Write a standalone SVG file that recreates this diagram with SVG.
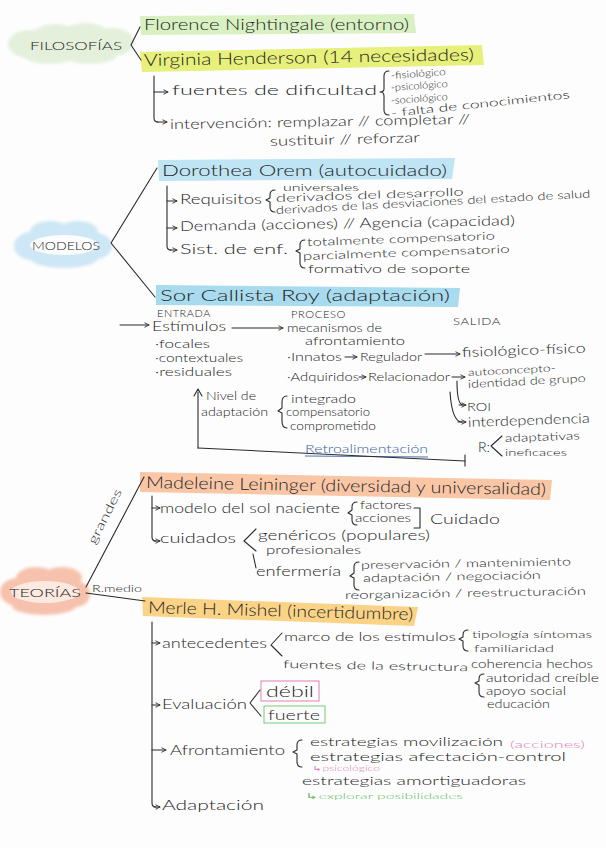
<svg xmlns="http://www.w3.org/2000/svg" width="606" height="848" viewBox="0 0 606 848">
<defs>
<style>
text{font-family:Lato,"Liberation Sans","DejaVu Sans",sans-serif;font-weight:300;fill:#262626}
.h{font-size:16.5px}
.m{font-size:13.5px}
.s{font-size:11px}
.xs{font-size:9px}
.cap{font-size:10px;letter-spacing:0.5px}
.ln{fill:none;stroke:#2b2b2b;stroke-width:1.1;stroke-linecap:round;stroke-linejoin:round}
.ar{fill:none;stroke:#2b2b2b;stroke-width:1;stroke-linecap:round;marker-end:url(#ah)}
</style>
<marker id="ah" viewBox="0 0 8 8" refX="7" refY="4" markerWidth="6" markerHeight="6" orient="auto" markerUnits="userSpaceOnUse">
<path d="M1,1 L7,4 L1,7" fill="none" stroke="#2b2b2b" stroke-width="1.2"/>
</marker>
<filter id="soft" x="-20%" y="-30%" width="140%" height="160%"><feGaussianBlur stdDeviation="1.6"/></filter>
</defs>
<rect width="606" height="848" fill="#fdfdfd"/>

<!-- FILOSOFÍAS -->
<g id="filosofias">
<g fill="#e4f0dc" filter="url(#soft)">
<ellipse cx="30" cy="44" rx="22" ry="14"/><ellipse cx="55" cy="36" rx="22" ry="12"/><ellipse cx="85" cy="35" rx="24" ry="12"/><ellipse cx="112" cy="42" rx="22" ry="14"/><ellipse cx="90" cy="54" rx="28" ry="10"/><ellipse cx="50" cy="54" rx="28" ry="10"/><ellipse cx="70" cy="45" rx="50" ry="14"/>
</g>
<text class="s" x="30" y="50" textLength="92" lengthAdjust="spacingAndGlyphs" style="font-size:12px">FILOSOFÍAS</text>
</g>

<g id="nightingale">
<path d="M140,16 L414,14 L416,33 L141,35 Z" fill="#d8f0c2"/>
<text class="h" x="144" y="30" textLength="265" lengthAdjust="spacingAndGlyphs">Florence Nightingale (entorno)</text>
</g>
<g id="henderson">
<path d="M140,52 L482,45 L484,65 L142,72 Z" fill="#e6f07a"/>
<text class="h" x="144" y="66" textLength="330" lengthAdjust="spacingAndGlyphs" transform="rotate(-1 144 66)">Virginia Henderson (14 necesidades)</text>
<text class="m" x="172" y="95" textLength="205" lengthAdjust="spacingAndGlyphs">fuentes de dificultad</text>
<text class="xs" x="391" y="79" textLength="55" lengthAdjust="spacingAndGlyphs" transform="rotate(-4 391 79)" style="font-size:10px">-fisiológico</text>
<text class="xs" x="391" y="91" textLength="57" lengthAdjust="spacingAndGlyphs" transform="rotate(-4 391 91)" style="font-size:10px">-psicológico</text>
<text class="xs" x="391" y="104" textLength="57" lengthAdjust="spacingAndGlyphs" transform="rotate(-4 391 104)" style="font-size:10px">-sociológico</text>
<text class="s" x="391" y="117" textLength="180" lengthAdjust="spacingAndGlyphs" transform="rotate(-6 391 117)">- falta de conocimientos</text>
<text class="m" x="170" y="129" textLength="300" lengthAdjust="spacingAndGlyphs" transform="rotate(-1 170 129)">intervención: remplazar // completar //</text>
<text class="m" x="270" y="146" textLength="150" lengthAdjust="spacingAndGlyphs" transform="rotate(-1.5 270 146)">sustituir // reforzar</text>
</g>

<!-- MODELOS -->
<g id="modelos">
<g fill="#cde7f6" filter="url(#soft)">
<ellipse cx="32" cy="246" rx="18" ry="14"/><ellipse cx="50" cy="232" rx="20" ry="11"/><ellipse cx="78" cy="232" rx="20" ry="11"/><ellipse cx="96" cy="246" rx="16" ry="13"/><ellipse cx="64" cy="258" rx="34" ry="10"/><ellipse cx="64" cy="245" rx="40" ry="14"/>
</g>
<g fill="#fdfdfd">
<ellipse cx="64" cy="245" rx="34" ry="10"/>
</g>
<text class="s" x="32" y="250" textLength="68" lengthAdjust="spacingAndGlyphs" style="font-size:12px">MODELOS</text>
</g>

<g id="orem">
<path d="M158,160 L455,158 L452,179 L159,181 Z" fill="#bfe4f4"/>
<text class="h" x="162" y="176" textLength="285" lengthAdjust="spacingAndGlyphs">Dorothea Orem (autocuidado)</text>
<text class="m" x="180" y="204" textLength="82" lengthAdjust="spacingAndGlyphs">Requisitos</text>
<text class="xs" x="283" y="191" textLength="76" lengthAdjust="spacingAndGlyphs" style="font-size:10px">universales</text>
<text class="s" x="276" y="202" textLength="188" lengthAdjust="spacingAndGlyphs" transform="rotate(-2 276 202)">derivados del desarrollo</text>
<text class="s" x="276" y="214" textLength="315" lengthAdjust="spacingAndGlyphs" transform="rotate(-3 276 214)">derivados de las desviaciones del estado de salud</text>
<text class="m" x="180" y="231" textLength="335" lengthAdjust="spacingAndGlyphs" transform="rotate(-1 180 231)">Demanda (acciones) // Agencia (capacidad)</text>
<text class="m" x="180" y="254" textLength="108" lengthAdjust="spacingAndGlyphs">Sist. de enf.</text>
<text class="s" x="307" y="246" textLength="188" lengthAdjust="spacingAndGlyphs" transform="rotate(-2 307 246)">totalmente compensatorio</text>
<text class="s" x="303" y="260" textLength="207" lengthAdjust="spacingAndGlyphs" transform="rotate(-2 303 260)">parcialmente compensatorio</text>
<text class="s" x="308" y="273" textLength="162" lengthAdjust="spacingAndGlyphs">formativo de soporte</text>
</g>

<g id="roy">
<path d="M156,285 L460,288 L458,307 L156,305 Z" fill="#a8dbee"/>
<text class="h" x="160" y="301" textLength="290" lengthAdjust="spacingAndGlyphs">Sor Callista Roy (adaptación)</text>
<text class="cap" x="157" y="317" textLength="54" lengthAdjust="spacingAndGlyphs">ENTRADA</text>
<text class="cap" x="291" y="318" textLength="55" lengthAdjust="spacingAndGlyphs">PROCESO</text>
<text class="cap" x="453" y="325" textLength="48" lengthAdjust="spacingAndGlyphs">SALIDA</text>
<text class="m" x="152" y="331" textLength="74" lengthAdjust="spacingAndGlyphs">Estímulos</text>
<text class="s" x="287" y="332" textLength="95" lengthAdjust="spacingAndGlyphs">mecanismos de</text>
<text class="s" x="305" y="345" textLength="100" lengthAdjust="spacingAndGlyphs">afrontamiento</text>
<text class="s" x="155" y="348" textLength="55" lengthAdjust="spacingAndGlyphs">·focales</text>
<text class="s" x="155" y="362" textLength="88" lengthAdjust="spacingAndGlyphs">·contextuales</text>
<text class="s" x="155" y="376" textLength="77" lengthAdjust="spacingAndGlyphs">·residuales</text>
<text class="s" x="287" y="361" textLength="55" lengthAdjust="spacingAndGlyphs">·Innatos</text>
<text class="s" x="360" y="361" textLength="62" lengthAdjust="spacingAndGlyphs">Regulador</text>
<text class="m" x="462" y="357" textLength="124" lengthAdjust="spacingAndGlyphs" transform="rotate(-2 462 357)">fisiológico-físico</text>
<text class="s" x="287" y="381" textLength="72" lengthAdjust="spacingAndGlyphs">·Adquiridos</text>
<text class="s" x="368" y="381" textLength="82" lengthAdjust="spacingAndGlyphs">Relacionador</text>
<text class="xs" x="468" y="376" textLength="88" lengthAdjust="spacingAndGlyphs" transform="rotate(-3 468 376)" style="font-size:10px">autoconcepto-</text>
<text class="s" x="468" y="388" textLength="118" lengthAdjust="spacingAndGlyphs" transform="rotate(-3 468 388)">identidad de grupo</text>
<text class="s" x="467" y="411" textLength="24" lengthAdjust="spacingAndGlyphs">ROI</text>
<text class="m" x="468" y="427" textLength="122" lengthAdjust="spacingAndGlyphs" transform="rotate(-2 468 427)">interdependencia</text>
<text class="m" x="478" y="452" textLength="12" lengthAdjust="spacingAndGlyphs">R:</text>
<text class="s" x="505" y="442" textLength="75" lengthAdjust="spacingAndGlyphs" transform="rotate(-2 505 442)">adaptativas</text>
<text class="xs" x="505" y="456" textLength="62" lengthAdjust="spacingAndGlyphs" style="font-size:10px">ineficaces</text>
<text class="s" x="206" y="400" textLength="50" lengthAdjust="spacingAndGlyphs">Nivel de</text>
<text class="s" x="201" y="416" textLength="67" lengthAdjust="spacingAndGlyphs">adaptación</text>
<text class="s" x="291" y="403" textLength="65" lengthAdjust="spacingAndGlyphs">integrado</text>
<text class="s" x="286" y="416" textLength="84" lengthAdjust="spacingAndGlyphs">compensatorio</text>
<text class="s" x="290" y="430" textLength="86" lengthAdjust="spacingAndGlyphs">comprometido</text>
<text class="s" x="305" y="453" textLength="123" lengthAdjust="spacingAndGlyphs" style="fill:#3a64a8">Retroalimentación</text>
<line x1="305" y1="456" x2="428" y2="457" stroke="#3a64a8" stroke-width="0.9"/>
</g>

<!-- TEORÍAS -->
<g id="teorias">
<g fill="#f7c2ad" filter="url(#soft)">
<ellipse cx="18" cy="592" rx="18" ry="14"/><ellipse cx="36" cy="578" rx="20" ry="11"/><ellipse cx="62" cy="578" rx="20" ry="11"/><ellipse cx="76" cy="594" rx="14" ry="13"/><ellipse cx="44" cy="606" rx="32" ry="9"/><ellipse cx="45" cy="592" rx="38" ry="14"/>
</g>
<g fill="#fce9e0">
<ellipse cx="45" cy="592" rx="34" ry="11"/>
</g>
<text class="s" x="9" y="597" textLength="72" lengthAdjust="spacingAndGlyphs" style="font-size:12px">TEORÍAS</text>
<text class="s" x="95" y="545" textLength="60" lengthAdjust="spacingAndGlyphs" transform="rotate(-63 95 545)" style="font-size:12px">grandes</text>
<text class="xs" x="92" y="592" textLength="50" lengthAdjust="spacingAndGlyphs">R.medio</text>
</g>

<g id="leininger">
<path d="M140,472 L552,480 L550,500 L140,492 Z" fill="#f9c6a6"/>
<text class="h" x="146" y="488" textLength="400" lengthAdjust="spacingAndGlyphs" transform="rotate(1 146 488)">Madeleine Leininger (diversidad y universalidad)</text>
<text class="m" x="160" y="513" textLength="180" lengthAdjust="spacingAndGlyphs">modelo del sol naciente</text>
<text class="s" x="360" y="509" textLength="52" lengthAdjust="spacingAndGlyphs">factores</text>
<text class="s" x="355" y="522" textLength="56" lengthAdjust="spacingAndGlyphs">acciones</text>
<text class="m" x="430" y="524" textLength="70" lengthAdjust="spacingAndGlyphs">Cuidado</text>
<text class="m" x="160" y="543" textLength="76" lengthAdjust="spacingAndGlyphs">cuidados</text>
<text class="m" x="258" y="540" textLength="172" lengthAdjust="spacingAndGlyphs">genéricos (populares)</text>
<text class="s" x="266" y="554" textLength="95" lengthAdjust="spacingAndGlyphs">profesionales</text>
<text class="m" x="256" y="576" textLength="85" lengthAdjust="spacingAndGlyphs">enfermería</text>
<text class="s" x="361" y="569" textLength="210" lengthAdjust="spacingAndGlyphs" transform="rotate(-1 361 569)">preservación / mantenimiento</text>
<text class="s" x="363" y="582" textLength="178" lengthAdjust="spacingAndGlyphs" transform="rotate(-1 363 582)">adaptación / negociación</text>
<text class="s" x="345" y="599" textLength="241" lengthAdjust="spacingAndGlyphs" transform="rotate(-1 345 599)">reorganización / reestructuración</text>
</g>

<g id="mishel">
<path d="M142,597 L418,607 L414,626 L143,616 Z" fill="#fbd386"/>
<text class="h" x="148" y="613" textLength="265" lengthAdjust="spacingAndGlyphs" transform="rotate(1.5 148 613)">Merle H. Mishel (incertidumbre)</text>
<text class="m" x="162" y="648" textLength="105" lengthAdjust="spacingAndGlyphs">antecedentes</text>
<text class="s" x="284" y="641" textLength="172" lengthAdjust="spacingAndGlyphs">marco de los estímulos</text>
<text class="xs" x="472" y="638" textLength="120" lengthAdjust="spacingAndGlyphs" style="font-size:10px">tipología síntomas</text>
<text class="xs" x="474" y="652" textLength="80" lengthAdjust="spacingAndGlyphs" style="font-size:10px">familiaridad</text>
<text class="s" x="471" y="668" textLength="122" lengthAdjust="spacingAndGlyphs">coherencia hechos</text>
<text class="s" x="283" y="668" textLength="185" lengthAdjust="spacingAndGlyphs" transform="rotate(1 283 668)">fuentes de la estructura</text>
<text class="s" x="486" y="682" textLength="113" lengthAdjust="spacingAndGlyphs">autoridad creíble</text>
<text class="s" x="486" y="695" textLength="80" lengthAdjust="spacingAndGlyphs">apoyo social</text>
<text class="s" x="487" y="708" textLength="63" lengthAdjust="spacingAndGlyphs">educación</text>
<text class="m" x="162" y="709" textLength="85" lengthAdjust="spacingAndGlyphs">Evaluación</text>
<rect x="261" y="681" width="58" height="20" fill="none" stroke="#e47fb2" stroke-width="1"/>
<text class="h" x="266" y="697" textLength="48" lengthAdjust="spacingAndGlyphs">débil</text>
<rect x="264" y="706" width="61" height="17" fill="none" stroke="#78c978" stroke-width="1"/>
<text class="m" x="268" y="720" textLength="52" lengthAdjust="spacingAndGlyphs">fuerte</text>
<text class="m" x="170" y="755" textLength="115" lengthAdjust="spacingAndGlyphs">Afrontamiento</text>
<text class="s" x="310" y="746" textLength="193" lengthAdjust="spacingAndGlyphs">estrategias movilización</text>
<text class="xs" x="510" y="748" textLength="75" lengthAdjust="spacingAndGlyphs" style="fill:#e47fb2">(acciones)</text>
<text class="s" x="310" y="761" textLength="256" lengthAdjust="spacingAndGlyphs">estrategias afectación-control</text>
<text class="xs" x="312" y="771" textLength="68" lengthAdjust="spacingAndGlyphs" style="fill:#e47fb2;font-size:7px">↳psicológico</text>
<text class="s" x="302" y="785" textLength="224" lengthAdjust="spacingAndGlyphs">estrategias amortiguadoras</text>
<text class="xs" x="305" y="799" textLength="158" lengthAdjust="spacingAndGlyphs" style="fill:#5bbd5b;font-size:8px">↳explorar posibilidades</text>
<text class="m" x="162" y="810" textLength="102" lengthAdjust="spacingAndGlyphs">Adaptación</text>
</g>

<g id="connectors">
<path class="ln" d="M140,27 L131,45 L141,60"/>
<path class="ln" d="M154,76 V118 Q154,122 158,122"/>
<path class="ar" d="M154,92 H168"/>
<path class="ar" d="M157,122 H167"/>
<path class="ln" d="M389,71 Q384,71 384,76 V89 Q384,92 380,92 Q384,92 384,96 V110 Q384,115 389,115"/>
<path class="ln" d="M157,168 L111,243 L155,297"/>
<path class="ln" d="M167,186 V246 Q167,250 171,250"/>
<path class="ar" d="M167,201 H177"/>
<path class="ar" d="M167,228 H177"/>
<path class="ar" d="M170,250 H177"/>
<path class="ln" d="M275,190 Q270,190 270,195 V198 L266,200 L270,202 V207 Q270,212 275,212"/>
<path class="ln" d="M305,240 Q300,240 300,245 V249 L296,251 L300,253 V263 Q300,268 305,268"/>
<path class="ar" d="M120,325 H149"/>
<path class="ar" d="M232,328 H283"/>
<path class="ar" d="M345,357 H357"/>
<path class="ar" d="M425,354 H460"/>
<path class="ar" d="M359,377 H366"/>
<path class="ar" d="M452,377 H465"/>
<path class="ln" d="M457,381 Q457,405 463,405"/>
<path class="ar" d="M459,405 H466"/>
<path class="ln" d="M450,392 Q452,422 462,422"/>
<path class="ar" d="M458,422 H466"/>
<path class="ln" d="M502,436 L491,446 L502,456"/>
<path class="ln" d="M287,396 Q282,396 282,402 V408 L278,411 L282,413 V421 Q282,428 287,428"/>
<path class="ln" d="M198,448 V392"/>
<path class="ln" d="M194,396 L198,389 L202,396"/>
<path class="ln" d="M198,448 L465,461"/>
<path class="ln" d="M465,455 V466"/>
<path class="ln" d="M86,587 L144,477"/>
<path class="ln" d="M86,593 L145,601"/>
<path class="ln" d="M152,496 V537 Q152,541 156,541"/>
<path class="ar" d="M152,508 H160"/>
<path class="ar" d="M154,541 H160"/>
<path class="ln" d="M357,502 Q352,502 352,507 V510 L348,513 L352,515 V520 Q352,525 357,525"/>
<path class="ln" d="M414,508 H420 V528 H414"/>
<path class="ln" d="M256,529 L244,541 L256,551"/>
<path class="ln" d="M253,554 L256,568"/>
<path class="ln" d="M359,562 Q354,562 354,567 V573 L350,576 L354,578 V585 Q354,590 359,590"/>
<path class="ln" d="M152,622 V803 Q152,807 156,807"/>
<path class="ar" d="M152,643 H160"/>
<path class="ar" d="M152,705 H160"/>
<path class="ar" d="M152,750 H166"/>
<path class="ar" d="M154,807 H160"/>
<path class="ln" d="M282,633 L271,645 L282,656"/>
<path class="ln" d="M468,630 Q463,630 463,635 V637 L459,639 L463,641 V646 Q463,651 468,651"/>
<path class="ln" d="M484,674 Q479,674 479,679 V681 L475,683 L479,685 V692 Q479,697 484,697"/>
<path class="ln" d="M260,690 L250,703 L261,716"/>
<path class="ln" d="M302,740 Q297,740 297,745 V750 L293,752 L297,754 V762 Q297,767 302,767"/>
</g>
</svg>
